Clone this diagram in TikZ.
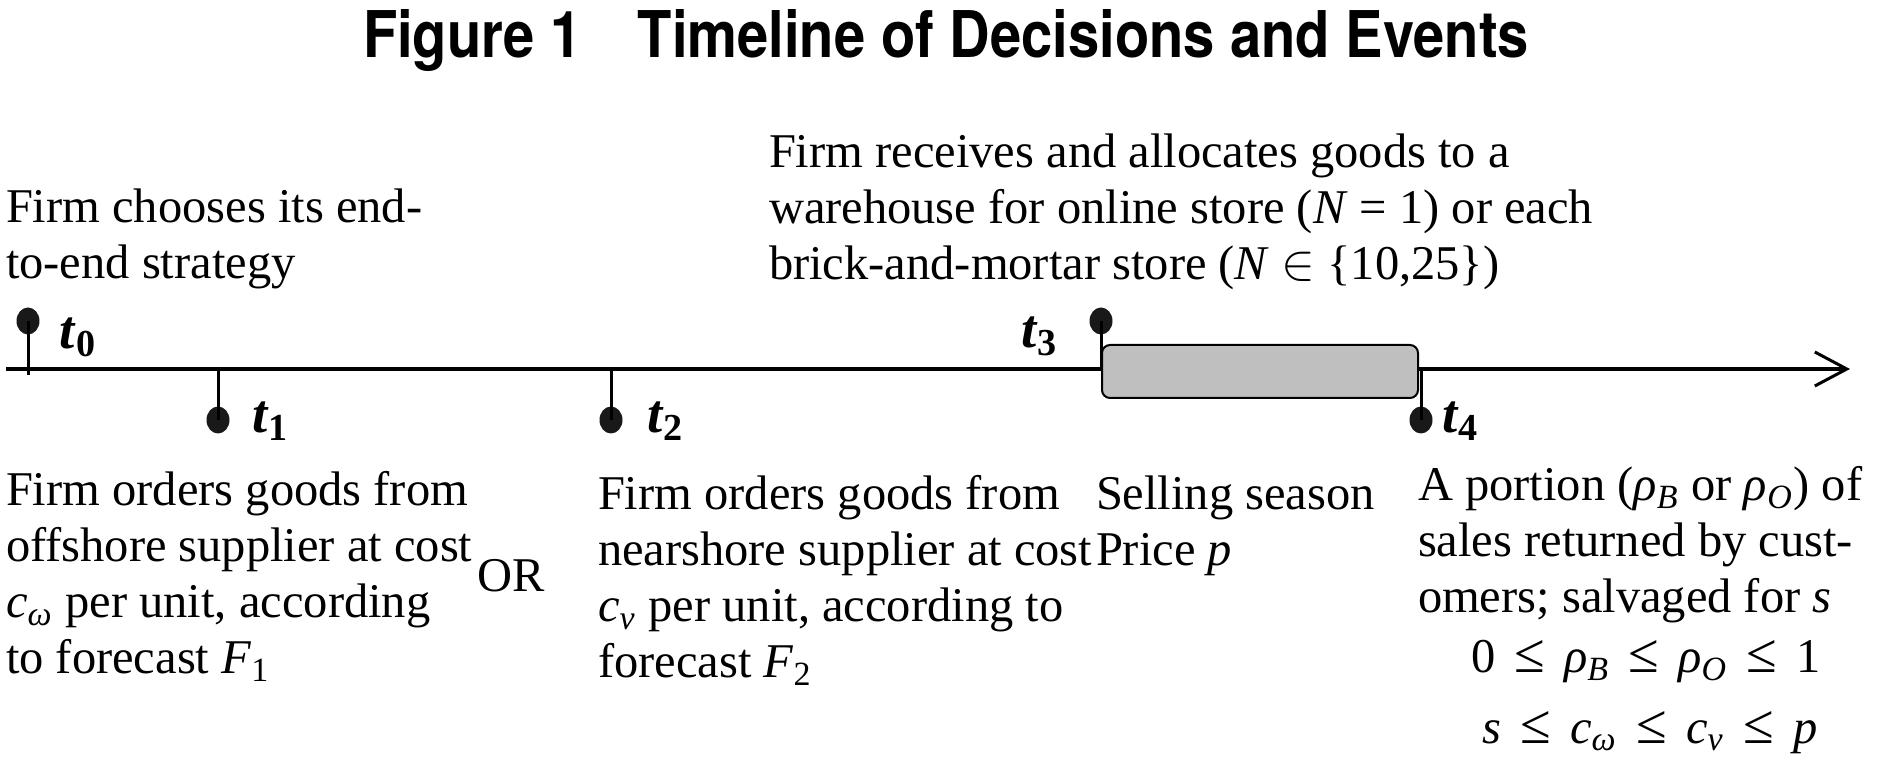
\documentclass[tikz,border=0pt]{standalone}
\usepackage{fontspec}
\usepackage{graphicx}
\setmainfont{Liberation Serif}
\newfontfamily\titlefont{TeX Gyre Heros}
\usetikzlibrary{arrows.meta,shapes.geometric}
\newcommand\lns[1]{\begin{tabular}[t]{@{}l@{}}#1\end{tabular}}
\newcommand\vi[1]{\textit{#1}}
\newcommand\sub[1]{\textsubscript{#1}}
\newcommand\tl[1]{\textbf{\textit{t}\textsubscript{#1}}}
\newcommand\myle{\hspace{1.9mm}\scalebox{1.15}{≤}\hspace{1.9mm}}
\begin{document}
\begin{tikzpicture}[x=0.1mm, y=-0.1mm,
  every node/.style={inner sep=0pt, outer sep=0pt},
  body/.style={font=\fontsize{13.8pt}{15.9pt}\selectfont, anchor=base west},
  tlab/.style={font=\fontsize{15.5pt}{18pt}\selectfont, anchor=base west},
  axisline/.style={line width=0.4mm, -{Straight Barb[length=3.2mm, width=3.4mm, line width=0.3mm]}},
  stem/.style={line width=0.3mm},
  dot/.style={ellipse, fill=black!90, minimum width=2.3mm, minimum height=2.7mm},
  season/.style={draw, line width=0.2mm, fill=black!25, rounded corners=0.8mm, minimum width=31.6mm, minimum height=5.3mm}]
\useasboundingbox (0,0) rectangle (1880,782);
% title
\node[anchor=base west] (title) at (363,58) {\resizebox{116.6mm}{4.8mm}{\titlefont\bfseries Figure 1\quad Timeline of Decisions and Events}};
% axis
\coordinate (s) at (6,369);
\coordinate (e) at (1850,369);
\draw[axisline] (s) -- (e);
% ticks
\node[dot] (d0) at (28,321) {};
\coordinate (a0) at (28,375);
\draw[stem] (d0.center) -- (a0);
\node[dot] (d1) at (218,420) {};
\coordinate (a1) at (218,369);
\draw[stem] (a1) -- (d1.center);
\node[dot] (d2) at (611,420) {};
\coordinate (a2) at (611,369);
\draw[stem] (a2) -- (d2.center);
\node[dot] (d3) at (1101,321) {};
\coordinate (a3) at (1101,369);
\draw[stem] (d3.center) -- (a3);
\node[season] (box) at (1260,371.5) {};
\node[dot] (d4) at (1421,420) {};
\coordinate (a4) at (1421,369);
\draw[stem] (a4) -- (d4.center);
% tick labels
\node[tlab] (l0) at (60,349) {\tl{0}};
\node[tlab] (l1) at (252,433) {\tl{1}};
\node[tlab] (l2) at (647,433) {\tl{2}};
\node[tlab] (l3) at (1021,348) {\tl{3}};
\node[tlab] (l4) at (1442,433) {\tl{4}};
% texts
\node[body] (tA) at (6,223) {\lns{Firm chooses its end-\\to-end strategy}};
\node[body] (tB) at (769,168) {\lns{Firm receives and allocates goods to a\\warehouse for online store (\vi{N} = 1) or each\\brick-and-mortar store (\vi{N} $\in$ \{10,25\})}};
\node[body] (tC) at (6,506) {\lns{Firm orders goods from\\offshore supplier at cost\\\vi{c}\sub{\vi{ω}} per unit, according\\to forecast \vi{F}\sub{1}}};
\node[body] (or) at (477,592) {OR};
\node[body] (tD) at (598,510) {\lns{Firm orders goods from\\nearshore supplier at cost\\\vi{c}\sub{\vi{ν}} per unit, according to\\forecast \vi{F}\sub{2}}};
\node[body] (tE) at (1096,510) {\lns{Selling season\\Price \vi{p}}};
\node[body] (tF) at (1418,501) {\lns{A portion (\vi{ρ}\sub{\vi{B}} or \vi{ρ}\sub{\vi{O}}) of\\sales returned by cust-\\omers; salvaged for \vi{s}}};
\node[body, anchor=base] (eq1) at (1646,673) {0\myle\vi{ρ}\sub{\vi{B}}\myle\vi{ρ}\sub{\vi{O}}\myle 1};
\node[body, anchor=base] (eq2) at (1650,743) {\vi{s}\myle\vi{c}\sub{\vi{ω}}\myle\vi{c}\sub{\vi{ν}}\myle\vi{p}};
\end{tikzpicture}
\end{document}
